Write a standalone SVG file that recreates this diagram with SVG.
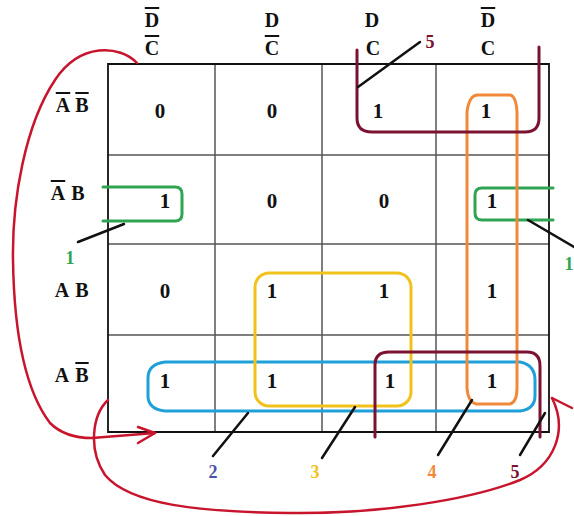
<svg xmlns="http://www.w3.org/2000/svg" width="574" height="516" viewBox="0 0 574 516">
<style>
text{font-family:"Liberation Serif","DejaVu Serif",serif;font-weight:bold;}
.h{font-size:20px;fill:#111;text-anchor:middle;}
.v{font-size:21px;fill:#111;text-anchor:middle;}
.ov{text-decoration:overline;}
.g{fill:none;stroke:#555;stroke-width:1.5;}
.b{fill:none;stroke:#111;stroke-width:1.8;}
.loop{fill:none;stroke-width:3;stroke-linejoin:round;stroke-linecap:round;}
.lead{stroke:#111;stroke-width:2.5;stroke-linecap:round;}
.lbl{font-size:18px;text-anchor:middle;}
.arc{fill:none;stroke:#c8142c;stroke-width:2.5;stroke-linecap:round;stroke-linejoin:round;}
</style>
<rect width="574" height="516" fill="#fff"/>
<g id="grid">
<path class="g" d="M215,64 V432 M322,64 V432 M436,64 V432 M108,155 H549 M108,244 H549 M108,335 H549"/>
<path class="b" d="M108,64 H549 V432 H108 Z"/>
</g>
<g id="headers">
<text class="h" x="152" y="27"><tspan class="ov">D</tspan></text>
<text class="h" x="152" y="55"><tspan class="ov">C</tspan></text>
<text class="h" x="272" y="27">D</text>
<text class="h" x="272" y="55"><tspan class="ov">C</tspan></text>
<text class="h" x="372" y="27">D</text>
<text class="h" x="373" y="55">C</text>
<text class="h" x="488" y="27"><tspan class="ov">D</tspan></text>
<text class="h" x="488" y="55">C</text>
<text class="h" y="112"><tspan x="63" class="ov">A</tspan><tspan x="82" class="ov">B</tspan></text>
<text class="h" y="200"><tspan x="58" class="ov">A</tspan><tspan x="78">B</tspan></text>
<text class="h" y="297"><tspan x="62">A</tspan><tspan x="82">B</tspan></text>
<text class="h" y="382"><tspan x="62">A</tspan><tspan x="82" class="ov">B</tspan></text>
</g>
<g id="cells">
<text class="v" x="160" y="118">0</text>
<text class="v" x="272" y="118">0</text>
<text class="v" x="378" y="118">1</text>
<text class="v" x="486" y="118">1</text>
<text class="v" x="165" y="208">1</text>
<text class="v" x="272" y="208">0</text>
<text class="v" x="384" y="208">0</text>
<text class="v" x="492" y="208">1</text>
<text class="v" x="165" y="298">0</text>
<text class="v" x="272" y="298">1</text>
<text class="v" x="384" y="298">1</text>
<text class="v" x="492" y="298">1</text>
<text class="v" x="165" y="388">1</text>
<text class="v" x="272" y="388">1</text>
<text class="v" x="390" y="388">1</text>
<text class="v" x="492" y="388">1</text>
</g>
<g id="group1">
<path class="loop" stroke="#2fa452" d="M103,187 H175 Q182,187 182,194 V214 Q182,221 175,221 H103"/>
<path class="loop" stroke="#2fa452" d="M553,188 H482 Q475,188 475,195 V213 Q475,220 482,220 H553"/>
<line class="lead" x1="78" y1="242" x2="124" y2="224"/>
<line class="lead" x1="528" y1="220" x2="574" y2="247"/>
<text class="lbl" fill="#2fa452" x="70" y="264">1</text>
<text class="lbl" fill="#2fa452" x="569" y="270">1</text>
</g>
<g id="group2">
<path class="loop" stroke="#1fa0d8" d="M165,362 H520 Q535,365 535,380 V396 Q535,409 520,411 H165 Q148,409 148,396 V378 Q148,364 165,362 Z"/>
<line class="lead" x1="213" y1="456" x2="248" y2="413"/>
<text class="lbl" fill="#4b4fa8" x="213" y="478">2</text>
</g>
<g id="group3">
<rect class="loop" stroke="#f2c21c" x="255" y="273" width="156" height="133" rx="14"/>
<line class="lead" x1="322" y1="458" x2="355" y2="407"/>
<text class="lbl" fill="#f2c21c" x="315" y="478">3</text>
</g>
<g id="group4">
<path class="loop" stroke="#f08a3a" d="M476,404 Q468,402 467,388 V112 Q469,96 477,95 H510 Q516,96 517,112 V388 Q517,402 510,404 Z"/>
<line class="lead" x1="438" y1="455" x2="472" y2="400"/>
<text class="lbl" fill="#f08a3a" x="432" y="478">4</text>
</g>
<g id="group5">
<path class="loop" stroke="#7a1230" d="M357,50 V118 Q357,132 372,132 H525 Q539,132 539,118 V47"/>
<path class="loop" stroke="#7a1230" d="M375,437 V365 Q375,352 389,352 H527 Q540,352 540,366 V437"/>
<line class="lead" x1="358" y1="87" x2="420" y2="42"/>
<text class="lbl" fill="#7a1230" x="430" y="48">5</text>
<line class="lead" x1="520" y1="455" x2="545" y2="413"/>
<text class="lbl" fill="#7a1230" x="515" y="478">5</text>
</g>
<g id="connectors">
<path class="arc" d="M137,63 C120,45 80,42 55,80 C25,125 12,200 13,260 C14,330 25,390 50,423 C60,433 75,438 92,438 L155,433"/>
<path class="arc" d="M138,427 L155,433 L138,443"/>
<path class="arc" d="M108,400 C92,415 88,450 105,475 C130,505 200,512 290,513 C380,514 470,500 520,480 C555,465 568,430 552,398"/>
<path class="arc" d="M552,398 L572,408"/>
</g>
</svg>
